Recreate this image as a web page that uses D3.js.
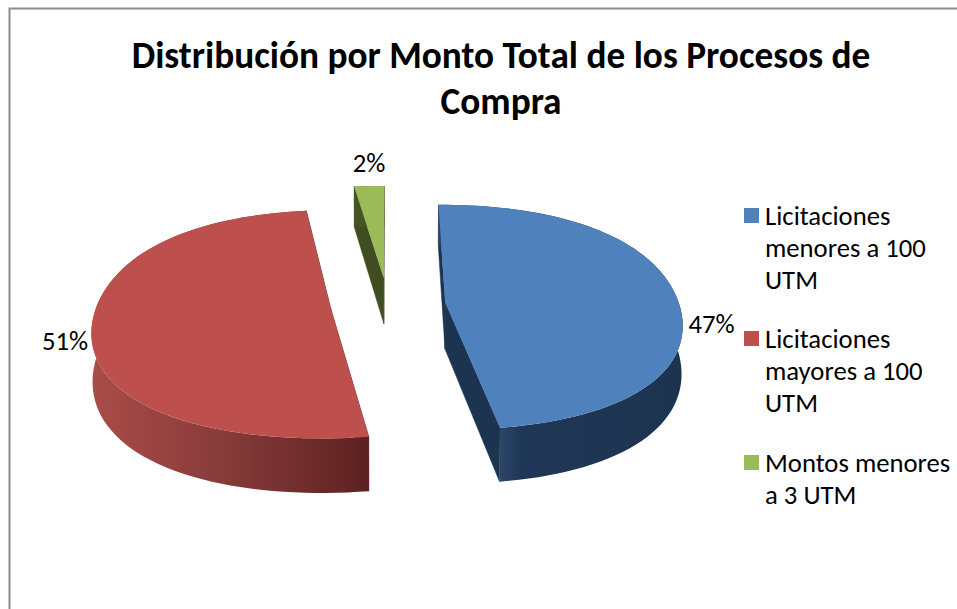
<!DOCTYPE html>
<html><head><meta charset="utf-8">
<script src="https://cdn.jsdelivr.net/npm/d3@7"></script>
<style>html,body{margin:0;padding:0;background:#fff}svg{display:block}text{font-family:Carlito,Calibri,"Open Sans","Noto Sans",sans-serif;fill:#000}</style>
</head><body><svg id="c" width="957" height="609"></svg>
<script>
const categories=[["Licitaciones","menores a 100","UTM"],["Licitaciones","mayores a 100","UTM"],["Montos menores","a 3 UTM"]];
const values=[47.4,50.5,2.4];
const topColors=["#4f81bd","#bd4f4c","#9bbb59"];
const wallStops=[["#2d4769","#1f3756","#1d3450"],["#aa4c49","#853a39","#5d2121"],["#4a5a28","#435224","#3c4a1e"]];
const faceColors=["#1d3450","#5d2121","#3f4d20"];
const titleLines=["Distribución por Monto Total de los Procesos de","Compra"];

const W=957,H=609,svg=d3.select("#c");
const cx=388,cy=304.5,R=234,Ry=111,k=0.133,depth=47,explode=0.246,taper=0.004,shoulder=0.03;
const project=(u,v,z)=>{const d=1+k*v;return [cx+R*u/d*(1-taper*z),cy-Ry*v/d+z*depth/d];};
const radius=a=>1+shoulder*Math.pow(Math.sin(2*a),2);
const pie=d3.pie().sort(null).value(d=>d)(values);

svg.append("path").attr("d",d3.line()([[W,8.5],[9.5,8.5],[9.5,H]])).attr("fill","none").attr("stroke","#8c8c8c").attr("stroke-width",2);

const defs=svg.append("defs"),line=d3.line();
pie.forEach((s,i)=>{
  const mid=(s.startAngle+s.endAngle)/2,ox=explode*Math.sin(mid),oy=explode*Math.cos(mid);
  const steps=d3.range(0,81).map(j=>s.startAngle+(s.endAngle-s.startAngle)*j/80);
  const rim=z=>steps.map(a=>project(ox+radius(a)*Math.sin(a),oy+radius(a)*Math.cos(a),z));
  const apex=z=>project(ox,oy,z);
  const top=rim(0),bot=rim(1);
  const id="w"+i;
  const visible=bot.filter(p=>p[1]>apex(1)[1]);
  const g=defs.append("linearGradient").attr("id",id).attr("gradientUnits","userSpaceOnUse")
    .attr("x1",d3.min(visible,p=>p[0])).attr("x2",d3.max(visible,p=>p[0])).attr("y1",0).attr("y2",0);
  const st=i===0?[0,0.12,1]:[0,0.5,1];
  wallStops[i].forEach((c,j)=>g.append("stop").attr("offset",st[j]).attr("stop-color",c));
  const layer=svg.append("g");
  const face=pts=>layer.append("path").attr("d",line(pts)+"Z").attr("fill",faceColors[i]).attr("stroke",faceColors[i]).attr("stroke-width",0.5);
  face([apex(0),top[0],bot[0],apex(1)]);
  face([apex(0),top[80],bot[80],apex(1)]);
  layer.append("path").attr("d",line(top.concat(bot.slice().reverse()))+"Z").attr("fill",`url(#${id})`);
  layer.append("path").attr("d",line([apex(0)].concat(top))+"Z").attr("fill",topColors[i]);
});

const pctX=[711.5,65,369],pctY=[333,350,172];
pie.forEach((s,i)=>svg.append("text").attr("x",pctX[i]).attr("y",pctY[i]).attr("text-anchor","middle").attr("font-size",26.7).text(Math.round(s.value)+"%"));

const t=svg.append("text").attr("text-anchor","middle").attr("font-size",37.3).attr("font-weight",700);
const titleY=[68,114];
titleLines.forEach((l,i)=>t.append("tspan").attr("x",501).attr("y",titleY[i]).text(l));

const ly=[217,340,464];
categories.forEach((c,i)=>{
  svg.append("rect").attr("x",744).attr("y",ly[i]-9).attr("width",15).attr("height",15).attr("fill",topColors[i]);
  const e=svg.append("text").attr("font-size",26.7);
  c.forEach((l,j)=>e.append("tspan").attr("x",765).attr("y",ly[i]+8+j*32).text(l));
});
</script></body></html>
